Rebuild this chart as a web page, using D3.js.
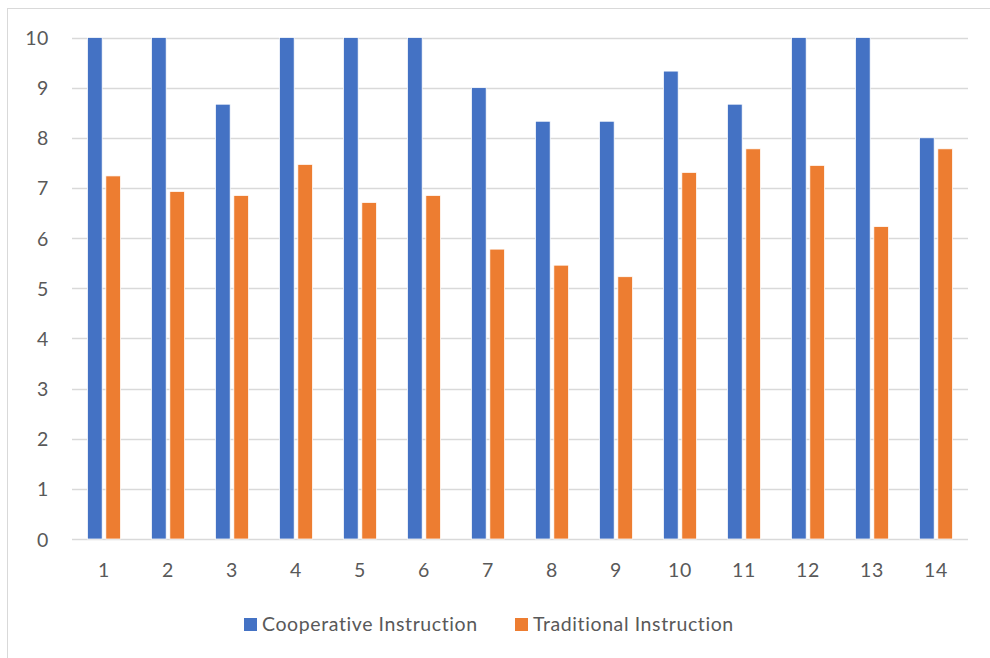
<!DOCTYPE html>
<html>
<head>
<meta charset="utf-8">
<script src="https://cdn.jsdelivr.net/npm/d3@7"></script>
<style>
  html, body { margin: 0; padding: 0; background: #fff; }
  svg { display: block; }
  text { font-family: Lato, "Open Sans", sans-serif; fill: #595959; }
</style>
</head>
<body>
<svg id="chart" width="990" height="658"></svg>
<script>
// Scores per item for the two teaching approaches
const categories = ["1","2","3","4","5","6","7","8","9","10","11","12","13","14"];
const seriesNames = ["Cooperative Instruction", "Traditional Instruction"];
const cooperative = [10, 10, 8.67, 10, 10, 10, 9, 8.33, 8.33, 9.33, 8.67, 10, 10, 8];
const traditional = [7.24, 6.93, 6.85, 7.47, 6.71, 6.85, 5.78, 5.46, 5.23, 7.31, 7.78, 7.45, 6.23, 7.78];
const yTicks = [0, 1, 2, 3, 4, 5, 6, 7, 8, 9, 10];
const colors = ["#4472C4", "#ED7D31"];

const rows = categories.map((c, i) => ({ cat: c, values: [cooperative[i], traditional[i]] }));

const svg = d3.select("#chart");
const W = 990, H = 658;
const plot = { left: 72, right: 968, top: 37.5, bottom: 539 };
const fontSize = 19.5;

// chart frame
svg.append("rect")
  .attr("x", 7.5).attr("y", 8.5)
  .attr("width", W + 10).attr("height", H + 10)
  .attr("fill", "none").attr("stroke", "#d9d9d9").attr("stroke-width", 1);

const y = d3.scaleLinear().domain([0, 10]).range([plot.bottom, plot.top]);

const x0 = d3.scaleBand()
  .domain(categories)
  .range([plot.left, plot.right])
  .paddingInner(0.484)
  .paddingOuter(0.242);

const x1 = d3.scaleBand()
  .domain(d3.range(seriesNames.length))
  .range([0, x0.bandwidth()])
  .paddingInner(0.2);

// horizontal gridlines
svg.append("g")
  .selectAll("line")
  .data(yTicks)
  .join("line")
  .attr("x1", plot.left).attr("x2", plot.right)
  .attr("y1", d => Math.round(y(d)) + 0.5).attr("y2", d => Math.round(y(d)) + 0.5)
  .attr("stroke", "#d9d9d9").attr("stroke-width", 1.3);

// y axis labels
const yAxis = d3.axisLeft(y).tickValues(yTicks).tickSize(0).tickPadding(0);
const gy = svg.append("g").attr("transform", "translate(49,0)").call(yAxis);
gy.select(".domain").remove();
gy.selectAll("text")
  .attr("font-size", fontSize)
  .attr("font-family", "Lato, 'Open Sans', sans-serif")
  .attr("fill", "#595959")
  .attr("letter-spacing", 0.6)
  .attr("dy", "0.36em");

// bars
const groups = svg.append("g")
  .selectAll("g")
  .data(rows)
  .join("g")
  .attr("transform", d => `translate(${x0(d.cat)},0)`);

groups.selectAll("rect")
  .data(d => d.values.map((v, i) => ({ v, i })))
  .join("rect")
  .attr("x", d => x1(d.i))
  .attr("width", x1.bandwidth())
  .attr("y", d => y(d.v))
  .attr("height", d => y(0) - y(d.v))
  .attr("fill", d => colors[d.i])
  .attr("stroke", "#fff")
  .attr("stroke-width", 0.75);

// x axis labels
const xAxis = d3.axisBottom(x0).tickSize(0).tickPadding(0);
const gx = svg.append("g").attr("transform", `translate(0,${plot.bottom})`).call(xAxis);
gx.select(".domain").remove();
gx.selectAll("text")
  .attr("font-size", fontSize)
  .attr("font-family", "Lato, 'Open Sans', sans-serif")
  .attr("fill", "#595959")
  .attr("letter-spacing", 0.6)
  .attr("y", 38)
  .attr("dy", null);

// legend
const legendX = [244, 515];
const legend = svg.append("g")
  .selectAll("g")
  .data(seriesNames)
  .join("g")
  .attr("transform", (d, i) => `translate(${legendX[i]},618)`);
legend.append("rect")
  .attr("width", 13).attr("height", 13)
  .attr("fill", (d, i) => colors[i]);
legend.append("text")
  .attr("x", 18).attr("y", 13)
  .attr("font-size", fontSize)
  .attr("letter-spacing", 0.6)
  .text(d => d);
</script>
</body>
</html>
